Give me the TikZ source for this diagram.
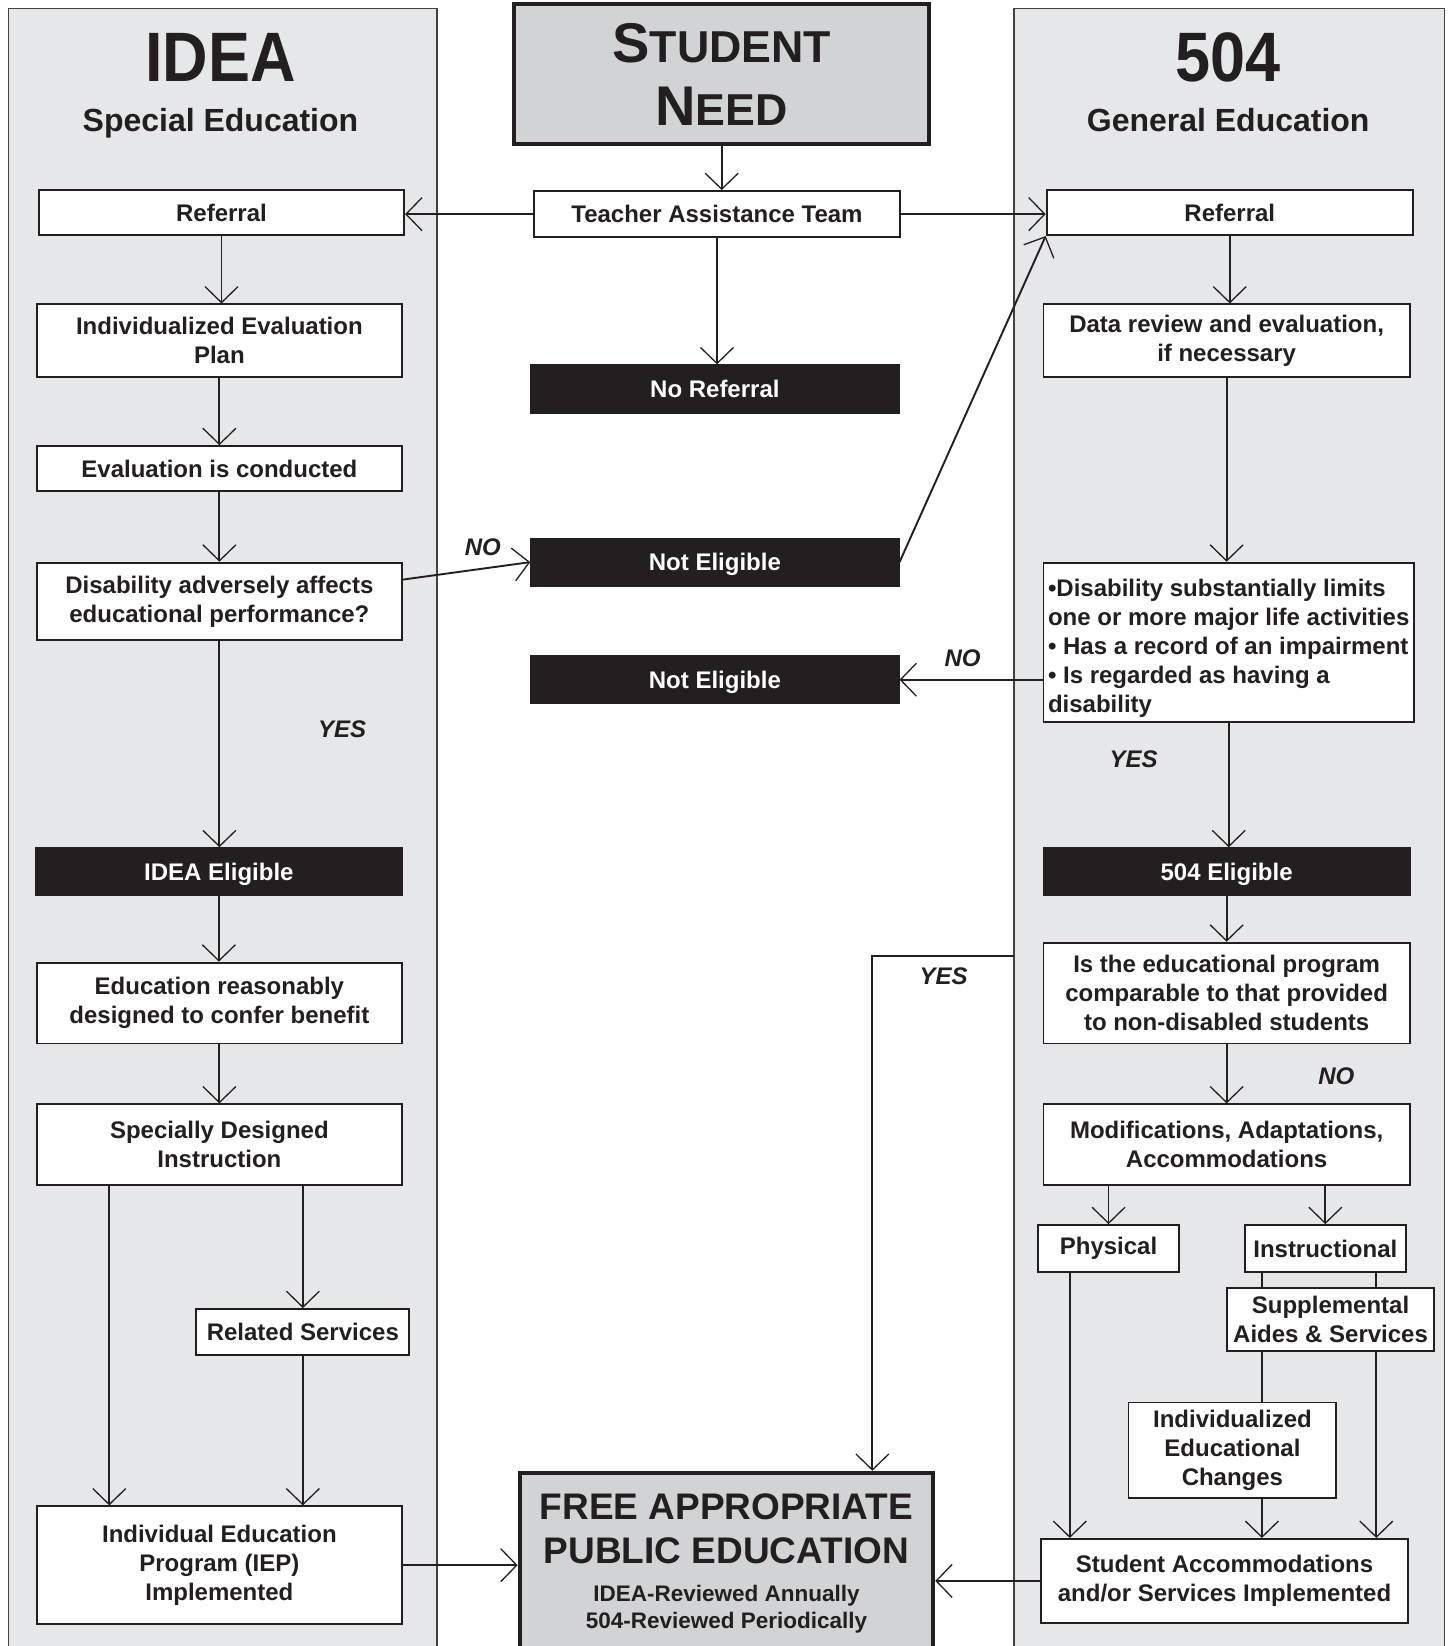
\documentclass[tikz,border=0pt]{standalone}
\usepackage{fontspec}
\setmainfont{Liberation Sans}
\newfontfamily\headfont[FakeStretch=0.9]{Liberation Sans}
\usetikzlibrary{calc,arrows.meta}
\definecolor{ink}{HTML}{231F20}
\definecolor{panel-gray}{HTML}{E6E7E8}
\definecolor{need-gray}{HTML}{D1D3D4}

\tikzset{
  corners/.style args={#1/#2/#3/#4}{at={({(#1+#3)/2},{(#2+#4)/2})},
    minimum width=(#3-#1)*1.05pt, minimum height=(#4-#2)*1.05pt},
  panel/.style={fill=panel-gray, draw=ink!85, line width=1.6pt},
  box/.style={draw=ink, fill=white, line width=1.9pt, inner sep=0pt, align=center,
    text=ink, font=\bfseries\fontsize{24}{29}\selectfont},
  blackbox/.style={box, fill=ink, text=white, text depth=0pt},
  bigbox/.style={box, fill=need-gray, line width=4pt},
  arr/.style={draw=ink, line width=1.9pt, -{Straight Barb[length=16pt, width=33pt, line width=1.3pt]}},
  link/.style={draw=ink, line width=1.9pt},
  answer/.style={text=ink, font=\bfseries\itshape\fontsize{24}{28}\selectfont},
}

\begin{document}
\begin{tikzpicture}[x=1.05pt, y=-1.05pt]

    \useasboundingbox (0,0) rectangle (1380,1568);

    % Columns
    \draw[panel] (8,8) rectangle (416,1590);
    \draw[panel] (966,8) rectangle (1376,1590);

    % Headings
    \node[anchor=base, text=ink, font=\headfont\bfseries\fontsize{70}{70}\selectfont] (ideahead) at (210,78) {IDEA};
    \node[anchor=base, text=ink, font=\bfseries\fontsize{32}{36}\selectfont] (ideasub) at (210,125) {Special Education};
    \node[anchor=base, text=ink, font=\headfont\bfseries\fontsize{70}{70}\selectfont] (gedhead) at (1170,78) {504};
    \node[anchor=base, text=ink, font=\bfseries\fontsize{32}{36}\selectfont] (gedsub) at (1170,125) {General Education};

    % Top box
    \node[bigbox, corners=490/4/885/137, font=\bfseries\fontsize{56}{63}\selectfont]
      (need) {S{\fontsize{44.7}{63}\selectfont TUDENT}\\N{\fontsize{44.7}{63}\selectfont EED}};

    % Middle column
    \node[box, corners=509/182/857/226] (tat) {Teacher Assistance Team};
    \node[blackbox, corners=506/348/856/393] (noref) {No Referral};
    \node[blackbox, corners=506/513/856/558] (notelig1) {Not Eligible};
    \node[blackbox, corners=506/625/856/670] (notelig2) {Not Eligible};
    \node[bigbox, corners=495/1403/889/1600] (fape) {};
    \node[text=ink, align=center, font=\bfseries\fontsize{37}{44}\selectfont] (fapetitle) at (692,1456)
      {FREE APPROPRIATE\\PUBLIC EDUCATION};
    \node[text=ink, align=center, font=\bfseries\fontsize{22.5}{27}\selectfont] (fapenote) at (692,1533)
      {IDEA-Reviewed Annually\\504-Reviewed Periodically};

    % IDEA column
    \node[box, corners=37/181/385/224] (refL) {Referral};
    \node[box, corners=35/290/383/359] (plan) {Individualized Evaluation\\Plan};
    \node[box, corners=35/425/383/468] (evalc) {Evaluation is conducted};
    \node[box, corners=35/536/383/610] (adverse) {Disability adversely affects\\educational performance?};
    \node[blackbox, corners=34/808/383/853] (ideaelig) {IDEA Eligible};
    \node[box, corners=35/917/383/994] (benefit) {Education reasonably\\designed to confer benefit};
    \node[box, corners=35/1052/383/1129] (sdi) {Specially Designed\\Instruction};
    \node[box, corners=187/1247/390/1291] (related) {Related Services};
    \node[box, corners=35/1435/383/1547] (iep) {Individual Education\\Program (IEP)\\Implemented};

    % 504 column
    \node[box, corners=997/181/1346/224] (refR) {Referral};
    \node[box, corners=994/290/1343/359] (datarev) {Data review and evaluation,\\if necessary};
    \node[box, corners=994/536/1347/688, align=left] (limits)
      {\rule{0pt}{29.5pt}•Disability substantially limits\\one or more major life activities\\• Has a record of an impairment\\• Is regarded as having a\\disability};
    \node[blackbox, corners=994/808/1343/853] (elig504) {504 Eligible};
    \node[box, corners=994/898/1343/994] (compar)
      {Is the educational program\\comparable to that provided\\to non-disabled students};
    \node[box, corners=994/1052/1343/1129] (modif) {Modifications, Adaptations,\\Accommodations};
    \node[box, corners=989/1167/1123/1212] (phys) {Physical};
    \node[box, corners=1186/1167/1339/1212] (instr) {Instructional};
    \node[box, corners=1169/1227/1366/1287] (supp) {Supplemental\\Aides \& Services};
    \node[box, corners=1075/1336/1273/1427] (iec) {Individualized\\Educational\\Changes};
    \node[box, corners=992/1466/1341/1546] (sacc) {Student Accommodations\\and/or Services Implemented};

    % Straight runs down the columns
    \foreach \a/\b in {need/tat, tat/noref, refL/plan, plan/evalc, evalc/adverse, adverse/ideaelig,
      ideaelig/benefit, benefit/sdi, refR/datarev, datarev/limits, limits/elig504, elig504/compar, compar/modif}
      \draw[arr] (\a.south) -- (\a.south |- \b.north);

    % Referrals
    \draw[arr] (tat.west) -- (tat.west -| refL.east);
    \draw[arr] (tat.east) -- (tat.east -| refR.west);
    \draw[arr] ([yshift=-17.85pt]adverse.north east) -- (notelig1.west);
    \draw[arr] (notelig1.east) -- (refR.south west);
    \draw[arr] (limits.west |- notelig2.east) -- (notelig2.east);

    % IDEA services
    \draw[arr] (related.north |- sdi.south) -- (related.north);
    \draw[arr] ($(sdi.south west)+(70,0)$) coordinate (sdileft) -- (sdileft |- iep.north);
    \draw[arr] (related.south) -- (related.south |- iep.north);
    \draw[arr] (iep.east) -- (iep.east -| fape.west);

    % 504 services
    \coordinate (yesfrom) at (966,911);
    \coordinate (yesbend) at (831,911);
    \draw[arr] (yesfrom) -- (yesbend) -- (yesbend |- fape.north);
    \draw[arr] (phys.north |- modif.south) -- (phys.north);
    \draw[arr] (instr.north |- modif.south) -- (instr.north);
    \coordinate (suppa) at ($(supp.north west)+(34,0)$);
    \coordinate (suppb) at ($(supp.north west)+(143,0)$);
    \draw[link] (suppa |- instr.south) -- (suppa);
    \draw[link] (suppb |- instr.south) -- (suppb);
    \draw[link] (suppa |- supp.south) -- (suppa |- iec.north);
    \draw[arr] (suppa |- iec.south) -- (suppa |- sacc.north);
    \draw[arr] (suppb |- supp.south) -- (suppb |- sacc.north);
    \draw[arr] ($(phys.south west)+(31,0)$) coordinate (physa) -- (physa |- sacc.north);
    \draw[arr] (sacc.west) -- (sacc.west -| fape.east);

    % Answers
    \node[answer] (noL) at (460,521) {NO};
    \node[answer] (yesL) at (326,695) {YES};
    \node[answer] (noR) at (917,627) {NO};
    \node[answer] (yesR) at (1080,723) {YES};
    \node[answer] (yesM) at (899,930) {YES};
    \node[answer] (noM) at (1273,1025) {NO};

\end{tikzpicture}
\end{document}
